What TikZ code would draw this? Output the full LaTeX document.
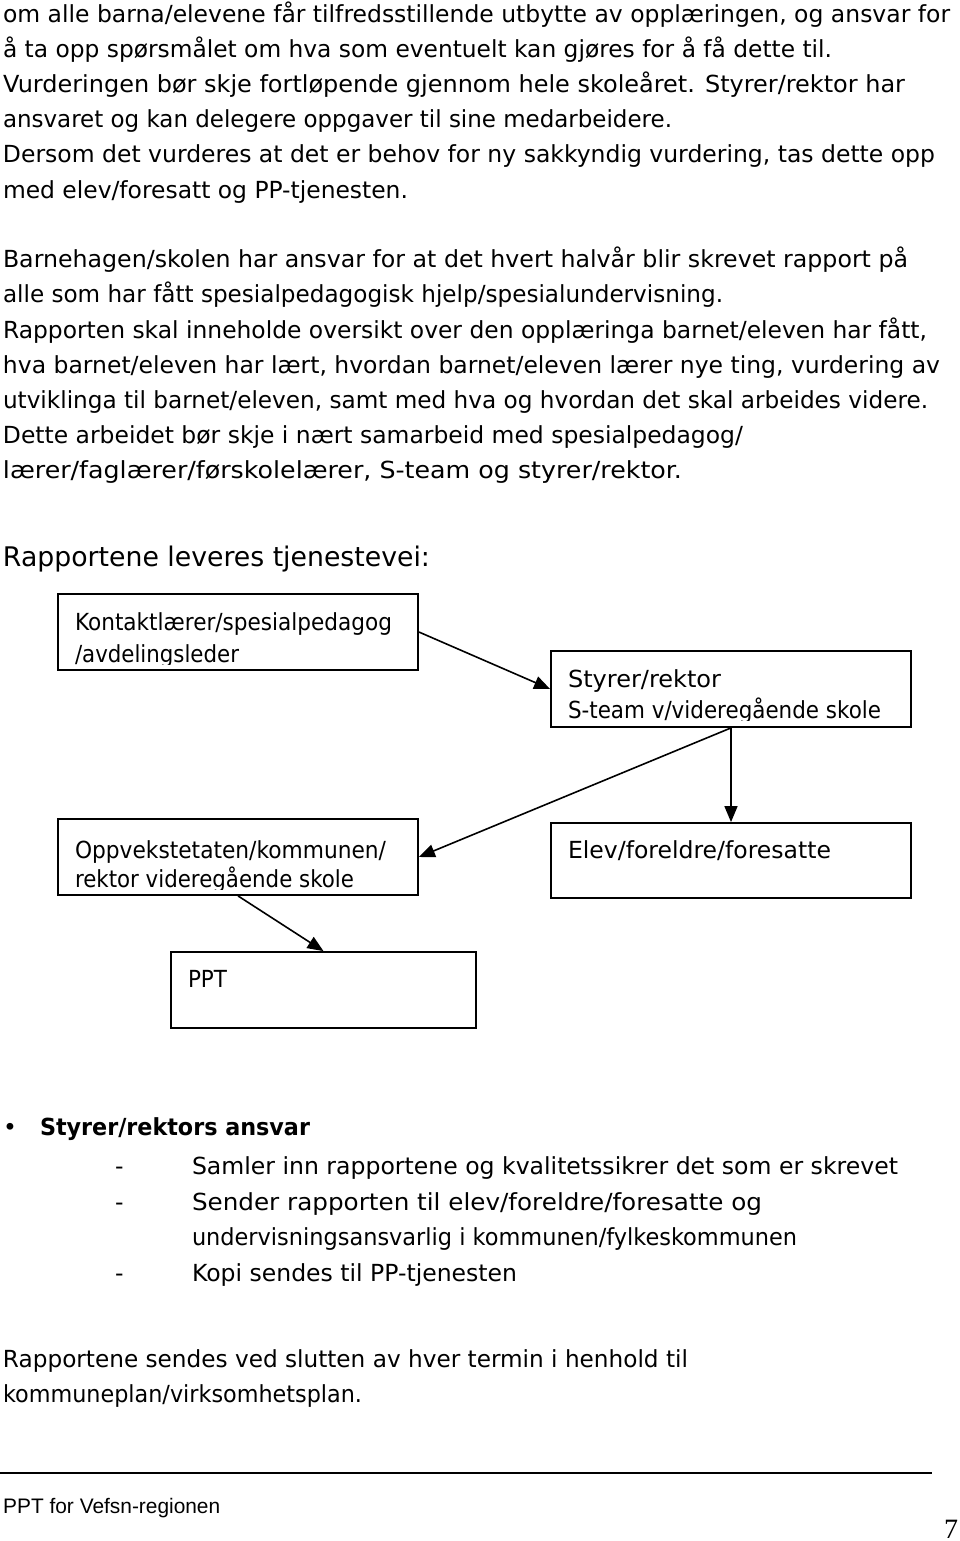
\documentclass[tikz,border=0pt]{standalone}
\usepackage{fontspec}
\setmainfont{DejaVu Sans}
\newfontfamily\footfont{Liberation Sans}
\newfontfamily\numfont{Liberation Serif}
\usetikzlibrary{arrows.meta}
\newcommand\tline[5]{\node[txt] (#1) at (#2,#3) {\resizebox{#4pt}{\height}{#5}};}
\tikzset{
  txt/.style={anchor=base west, inner sep=0pt, outer sep=0pt, font=\fontsize{23.5}{28}\selectfont},
  head/.style={txt, font=\fontsize{27}{32}\selectfont},
  boldtxt/.style={txt, font=\fontsize{23.5}{28}\selectfont\bfseries},
  box/.style={draw, line width=1.8pt, inner sep=0pt, minimum width=360pt, minimum height=76pt},
  conn/.style={line width=1.6pt, -{Triangle[length=16pt,width=13pt]}},
}
\begin{document}
\begin{tikzpicture}[x=1pt,y=-1pt]
\fill[white] (0,0) rectangle (960,1541);
\useasboundingbox (0,0) rectangle (960,1541);

% body text
\tline{t1}{3}{23}{947}{om alle barna/elevene får tilfredsstillende utbytte av opplæringen, og ansvar for}
\tline{t2}{3}{58}{829}{å ta opp spørsmålet om hva som eventuelt kan gjøres for å få dette til.}
\tline{t3}{3}{93}{902}{Vurderingen bør skje fortløpende gjennom hele skoleåret. Styrer/rektor har}
\tline{t4}{3}{128}{669}{ansvaret og kan delegere oppgaver til sine medarbeidere.}
\tline{t5}{3}{163}{932}{Dersom det vurderes at det er behov for ny sakkyndig vurdering, tas dette opp}
\tline{t6}{3}{198}{405}{med elev/foresatt og PP-tjenesten.}

\tline{t7}{3}{267}{905}{Barnehagen/skolen har ansvar for at det hvert halvår blir skrevet rapport på}
\tline{t8}{3}{302}{720}{alle som har fått spesialpedagogisk hjelp/spesialundervisning.}
\tline{t9}{3}{338}{924}{Rapporten skal inneholde oversikt over den opplæringa barnet/eleven har fått,}
\tline{t10}{3}{373}{937}{hva barnet/eleven har lært, hvordan barnet/eleven lærer nye ting, vurdering av}
\tline{t11}{3}{408}{925}{utviklinga til barnet/eleven, samt med hva og hvordan det skal arbeides videre.}
\tline{t12}{3}{443}{740}{Dette arbeidet bør skje i nært samarbeid med spesialpedagog/}
\tline{t13}{3}{478}{679}{lærer/faglærer/førskolelærer, S-team og styrer/rektor.}

\node[head] (t14) at (3,566) {\resizebox{427pt}{\height}{Rapportene leveres tjenestevei:}};

% boxes
\node[box] (b1) at (238,632) {};
\node[box] (b2) at (731,689) {};
\node[box] (b3) at (238,857) {};
\node[box, minimum height=75pt] (b4) at (731,860.5) {};
\node[box, minimum width=305pt] (ppt) at (323.5,990) {};

\begin{scope}
\clip (58,594) rectangle (418,664);
\tline{b1a}{75}{630}{317}{Kontaktlærer/spesialpedagog}
\tline{b1b}{75}{662}{164}{/avdelingsleder}
\end{scope}
\begin{scope}
\clip (551,651) rectangle (911,720);
\tline{b2a}{568}{687}{153}{Styrer/rektor}
\tline{b2b}{568}{718}{313}{S-team v/videregående skole}
\end{scope}
\begin{scope}
\clip (58,819) rectangle (418,889);
\tline{b3a}{75}{858}{311}{Oppvekstetaten/kommunen/}
\tline{b3b}{75}{887}{279}{rektor videregående skole}
\end{scope}
\tline{b4a}{568}{858}{263}{Elev/foreldre/foresatte}
\tline{ppta}{188}{987}{39}{PPT}

% connectors
\draw[conn] (b1.east) -- (b2.west);
\draw[conn] (b2.south) -- (b3.east);
\draw[conn] (b2.south) -- (b4.north);
\draw[conn] (b3.south) -- (ppt.north);

% bullet section
\node[txt] (bul) at (3,1135) {\textbullet};
\node[boldtxt] (s0) at (40,1135) {\resizebox{270pt}{\height}{Styrer/rektors ansvar}};
\node[txt] (d1) at (115,1174) {-};
\node[txt] (d2) at (115,1210) {-};
\node[txt] (d3) at (115,1281) {-};
\tline{s1}{192}{1174}{706}{Samler inn rapportene og kvalitetssikrer det som er skrevet}
\tline{s2}{192}{1210}{570}{Sender rapporten til elev/foreldre/foresatte og}
\tline{s3}{192}{1245}{605}{undervisningsansvarlig i kommunen/fylkeskommunen}
\tline{s4}{192}{1281}{325}{Kopi sendes til PP-tjenesten}

\tline{r1}{3}{1367}{685}{Rapportene sendes ved slutten av hver termin i henhold til}
\tline{r2}{3}{1402}{359}{kommuneplan/virksomhetsplan.}

% footer
\coordinate (fl) at (0,1473);
\coordinate (fr) at (932,1473);
\draw[line width=1.6pt] (fl) -- (fr);
\node[anchor=base west, inner sep=0pt, font=\fontsize{21}{24}\footfont] (foot) at (3,1513) {\resizebox{217pt}{\height}{PPT for Vefsn-regionen}};
\node[anchor=base west, inner sep=0pt, font=\fontsize{28}{32}\numfont] (pg) at (944,1538) {7};
\end{tikzpicture}
\end{document}
